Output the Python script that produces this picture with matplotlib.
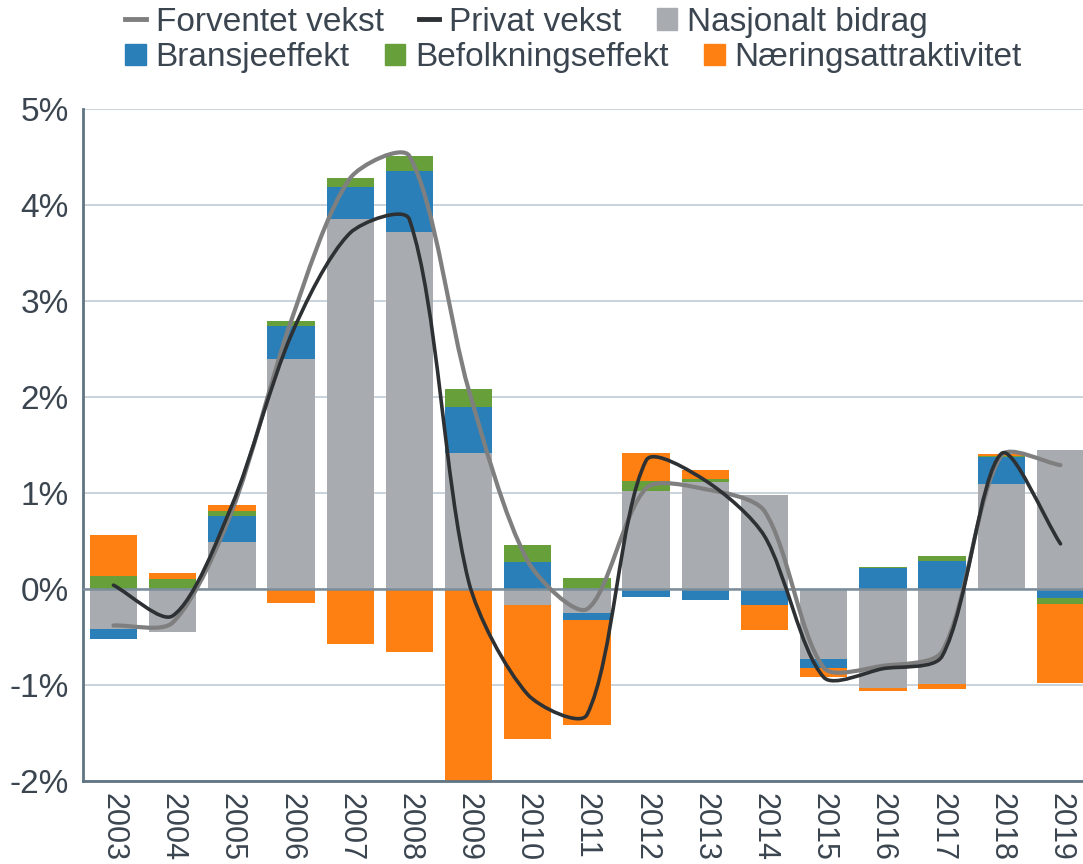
import numpy as np
import matplotlib
matplotlib.use("Agg")
import matplotlib.pyplot as plt
from matplotlib.path import Path
from matplotlib.patches import PathPatch, Patch
from matplotlib.lines import Line2D
from matplotlib.ticker import FuncFormatter

plt.rcParams['font.family'] = ['Liberation Sans', 'DejaVu Sans']

years = [str(y) for y in range(2003, 2020)]
nasjonalt = [-0.42, -0.45, 0.49, 2.40, 3.85, 3.72, 1.42, -0.17, -0.25, 1.02, 1.11, 0.98, -0.73, -1.03, -0.99, 1.09, 1.45]
bransje = [-0.10, 0.00, 0.27, 0.34, 0.34, 0.63, 0.48, 0.28, -0.07, -0.08, -0.11, -0.17, -0.09, 0.22, 0.29, 0.28, -0.09]
befolkning = [0.14, 0.10, 0.05, 0.05, 0.09, 0.16, 0.18, 0.18, 0.11, 0.11, 0.04, 0.00, 0.00, 0.01, 0.05, 0.02, -0.07]
naering = [0.42, 0.07, 0.06, -0.15, -0.57, -0.66, -2.00, -1.39, -1.10, 0.29, 0.09, -0.26, -0.10, -0.03, -0.05, 0.02, -0.82]
forventet = [-0.38, -0.35, 0.81, 2.79, 4.28, 4.51, 2.08, 0.29, -0.21, 1.05, 1.04, 0.81, -0.82, -0.80, -0.65, 1.39, 1.29]
privat = [0.04, -0.28, 0.87, 2.64, 3.71, 3.85, 0.08, -1.10, -1.31, 1.34, 1.13, 0.55, -0.92, -0.83, -0.70, 1.41, 0.47]

C_GREY = '#A8ACB0'
C_BLUE = '#2B7FB8'
C_GREEN = '#67A03B'
C_ORANGE = '#FE8012'
C_FORV = '#7F7F7F'
C_PRIV = '#2E3133'
C_TEXT = '#3B4550'

fig = plt.figure(figsize=(10.83, 8.64), dpi=100)
ax = fig.add_axes([0.0766, 0.0961, 0.9234, 0.7777])

x = np.arange(len(years))
pos_base = np.zeros(len(years))
neg_base = np.zeros(len(years))
width = 0.8
for vals, col in [(nasjonalt, C_GREY), (bransje, C_BLUE), (befolkning, C_GREEN), (naering, C_ORANGE)]:
    v = np.array(vals)
    p = np.where(v > 0, v, 0)
    n = np.where(v < 0, v, 0)
    ax.bar(x, p, width, bottom=pos_base, color=col, zorder=2, linewidth=0)
    ax.bar(x, n, width, bottom=neg_base, color=col, zorder=2, linewidth=0)
    pos_base += p
    neg_base += n

# pixel scale factors (per data unit) used only to weight the smoothing arms
SX, SY = 59.2, 96.0


def smooth_path(xs, ys, t=0.28):
    pts = np.column_stack([xs, ys]).astype(float)
    scl = np.array([SX, SY])
    n = len(pts)

    def d(a, b):
        return np.hypot(*((pts[a] - pts[b]) * scl))

    verts = [pts[0]]
    codes = [Path.MOVETO]
    for i in range(n - 1):
        i0 = max(i - 1, 0)
        i3 = min(i + 2, n - 1)
        p0, p1, p2, p3 = pts[i0], pts[i], pts[i + 1], pts[i3]
        d01 = d(i0, i) if i0 != i else 0.0
        d12 = d(i, i + 1)
        d23 = d(i + 1, i3) if i3 != i + 1 else 0.0
        f1 = d12 / (d01 + d12) if (d01 + d12) > 0 else 0
        f2 = d12 / (d12 + d23) if (d12 + d23) > 0 else 0
        c1 = p1 + (p2 - p0) * f1 * t
        c2 = p2 - (p3 - p1) * f2 * t
        verts += [c1, c2, p2]
        codes += [Path.CURVE4] * 3
    return Path(verts, codes)


ax.add_patch(PathPatch(smooth_path(x, forventet), fill=False, edgecolor=C_FORV, lw=3.0,
                       zorder=4, capstyle='round', joinstyle='round'))
ax.add_patch(PathPatch(smooth_path(x, privat), fill=False, edgecolor=C_PRIV, lw=2.6,
                       zorder=5, capstyle='round', joinstyle='round'))

ax.set_xlim(-0.515, 16.38)
ax.set_ylim(-2, 5)
ax.set_yticks(range(-2, 6))
ax.yaxis.set_major_formatter(FuncFormatter(lambda v, p: f"{int(v)}%"))
ax.set_xticks(x)
ax.set_xticklabels(years, rotation=-90, va='top', ha='center')
ax.tick_params(axis='x', length=0, pad=9, labelsize=22, labelcolor=C_TEXT)
ax.tick_params(axis='y', length=0, pad=10, labelsize=24, labelcolor=C_TEXT)

ax.grid(axis='y', color='#CBD3DA', lw=1.4, zorder=0)
ax.set_axisbelow(True)
ax.axhline(0, color='#7B8D9B', lw=1.8, zorder=3)

for s in ['top', 'right']:
    ax.spines[s].set_visible(False)
for s in ['left', 'bottom']:
    ax.spines[s].set_color('#617483')
    ax.spines[s].set_linewidth(2)

h1 = [Line2D([0], [0], color=C_FORV, lw=3.5), Line2D([0], [0], color=C_PRIV, lw=3.5), Patch(color=C_GREY)]
l1 = ['Forventet vekst', 'Privat vekst', 'Nasjonalt bidrag']
h2 = [Patch(color=C_BLUE), Patch(color=C_GREEN), Patch(color=C_ORANGE)]
l2 = ['Bransjeeffekt', 'Befolkningseffekt', 'Næringsattraktivitet']

common = dict(ncol=3, frameon=False, loc='center left', fontsize=24, handlelength=0.62,
              handleheight=0.62, handletextpad=0.3, columnspacing=1.05, borderpad=0,
              borderaxespad=0, labelcolor=C_TEXT)
leg1 = fig.legend(h1, l1, bbox_to_anchor=(0.1154, 0.9745), **common)
leg2 = fig.legend(h2, l2, bbox_to_anchor=(0.1154, 0.933), **common)

fig.savefig('out.png', dpi=100)
